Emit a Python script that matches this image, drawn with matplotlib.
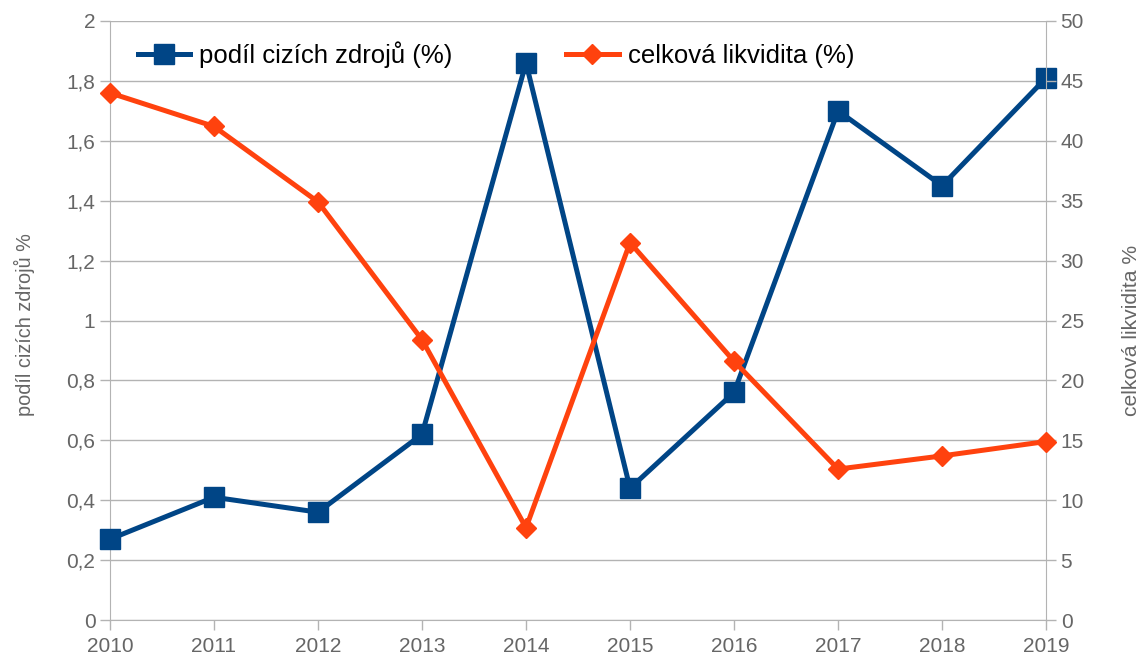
import matplotlib
import numpy as np

matplotlib.use("Agg")
import matplotlib.pyplot as plt

years = [2010, 2011, 2012, 2013, 2014, 2015, 2016, 2017, 2018, 2019]
podil_cizich_zdroju = [0.27, 0.41, 0.36, 0.62, 1.86, 0.44, 0.76, 1.70, 1.45, 1.81]
celkova_likvidita = [44.0, 41.2, 34.9, 23.4, 7.7, 31.5, 21.6, 12.6, 13.7, 14.9]

left_ticks = [0, 0.2, 0.4, 0.6, 0.8, 1, 1.2, 1.4, 1.6, 1.8, 2]
right_ticks = [0, 5, 10, 15, 20, 25, 30, 35, 40, 45, 50]

BLUE = "#004586"
ORANGE = "#ff420e"
GRID = "#b3b3b3"
TEXT = "#666666"

plt.rcParams["font.family"] = ["Liberation Sans", "DejaVu Sans"]

fig = plt.figure(figsize=(11.42, 6.62), dpi=100)
ax = fig.add_axes([0.0963, 0.0634, 0.8197, 0.9049])
ax2 = ax.twinx()

x = np.arange(len(years))
l1, = ax.plot(x, podil_cizich_zdroju, color=BLUE, lw=3.6, marker="s", ms=14.5,
              label="podíl cizích zdrojů (%)", zorder=3, clip_on=False)
l2, = ax2.plot(x, celkova_likvidita, color=ORANGE, lw=3.6, marker="D", ms=9.7,
               label="celková likvidita (%)", zorder=3, clip_on=False)

ax.set_xlim(0, len(years) - 1)
ax.set_ylim(0, 2)
ax2.set_ylim(0, 50)
ax.set_yticks(left_ticks)
ax.set_yticklabels([f"{v:g}".replace(".", ",") for v in left_ticks])
ax2.set_yticks(right_ticks)
ax.set_xticks(x)
ax.set_xticklabels([str(y) for y in years])

ax.yaxis.grid(True, color=GRID, lw=1)
ax.set_axisbelow(True)
for a in (ax, ax2):
    for s in a.spines.values():
        s.set_visible(False)
    a.tick_params(colors=GRID, labelcolor=TEXT, labelsize=15, length=7, width=1)
ax.spines["left"].set_visible(True)
ax.spines["left"].set_color(GRID)
ax.spines["bottom"].set_visible(True)
ax.spines["bottom"].set_color(GRID)
ax2.spines["right"].set_visible(True)
ax2.spines["right"].set_color(GRID)
ax.tick_params(axis="x", pad=5)

ax.set_ylabel("podíl cizích zdrojů %", color=TEXT, fontsize=14.3)
ax.yaxis.set_label_coords(-0.0801, 0.4925)
ax2.set_ylabel("celková likvidita %", color=TEXT, fontsize=15.2)
ax2.yaxis.set_label_coords(1.081, 0.484)

ax.legend([l1, l2], [l1.get_label(), l2.get_label()], loc="upper left", ncol=2,
          frameon=False, fontsize=18.5, bbox_to_anchor=(0.005, 1.005), handlelength=2.05,
          columnspacing=4.4, handletextpad=0.35)

fig.savefig("out.png", dpi=100)
